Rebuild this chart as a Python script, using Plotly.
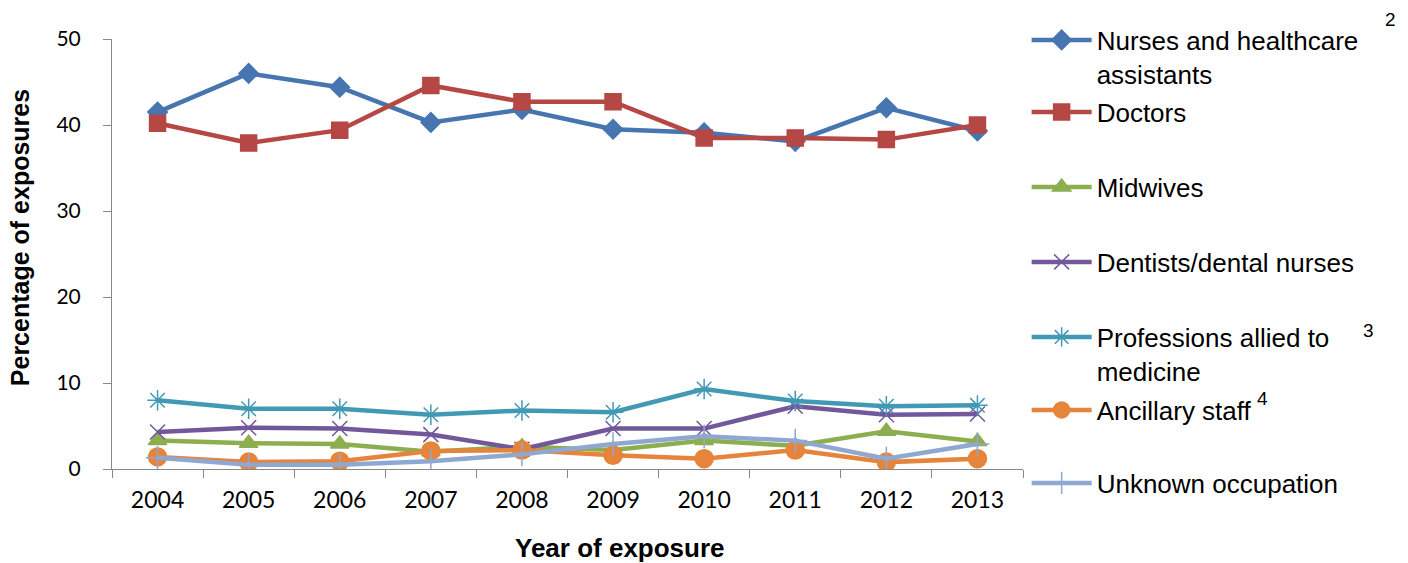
import plotly.graph_objects as go

years = ["2004", "2005", "2006", "2007", "2008", "2009", "2010", "2011", "2012", "2013"]
nurses = [41.5, 46.0, 44.4, 40.3, 41.8, 39.5, 39.1, 38.1, 42.0, 39.3]
doctors = [40.2, 37.9, 39.4, 44.6, 42.7, 42.7, 38.5, 38.5, 38.3, 40.0]
midwives = [3.3, 3.0, 2.9, 2.0, 2.6, 2.2, 3.3, 2.7, 4.4, 3.2]
dentists = [4.3, 4.8, 4.7, 4.0, 2.3, 4.7, 4.7, 7.3, 6.3, 6.4]
allied = [8.0, 7.0, 7.0, 6.3, 6.8, 6.6, 9.3, 7.9, 7.3, 7.4]
ancillary = [1.4, 0.8, 0.9, 2.1, 2.2, 1.6, 1.2, 2.2, 0.8, 1.2]
unknown = [1.3, 0.5, 0.5, 0.9, 1.7, 2.9, 3.8, 3.3, 1.2, 2.9]

names = ["Nurses and healthcare<br>assistants", "Doctors", "Midwives", "Dentists/dental nurses",
         "Professions allied to<br>medicine", "Ancillary staff", "Unknown occupation"]
series = [nurses, doctors, midwives, dentists, allied, ancillary, unknown]
colors = ["#4675B0", "#B54744", "#8DAE4F", "#72579A", "#4199B4", "#E5843A", "#8FA8D2"]
symbols = ["diamond", "square", "triangle-up", "x-thin-open", "asterisk-open", "circle", "cross-thin-open"]
sizes = [15, 16, 16, 15, 17, 18, 17]
# legend entry vertical centres (pixels from top)
legend_y_px = [57, 112, 187, 262, 354, 410, 483]

fig = go.Figure()
legend_ids = ["legend"] + [f"legend{i}" for i in range(2, 8)]
for i, (n, s, c, m, sz) in enumerate(zip(names, series, colors, symbols, sizes)):
    fig.add_trace(go.Scatter(
        x=years, y=s, name=n, mode="lines+markers",
        line=dict(color=c, width=4.5),
        marker=dict(symbol=m, size=sz, color=c, line=dict(color=c, width=1.5)),
        legend=legend_ids[i],
    ))

layout_legends = {}
for lid, py in zip(legend_ids, legend_y_px):
    layout_legends[lid] = dict(
        x=1.004, y=(469 - py) / 430, xanchor="left", yanchor="middle",
        font=dict(size=26, color="black", family="Liberation Sans, Arial, sans-serif"),
        bgcolor="rgba(0,0,0,0)", itemwidth=60, valign="top", borderwidth=0,
    )

fig.update_layout(
    width=1408, height=563,
    margin=dict(l=112, r=385, t=39, b=94),
    paper_bgcolor="white", plot_bgcolor="white",
    font=dict(family="Liberation Sans, Arial, sans-serif", color="black"),
    showlegend=True,
    **layout_legends,
)
fig.update_xaxes(
    type="category", tickson="boundaries", ticks="outside", ticklen=8,
    tickcolor="#888888", showline=True, linecolor="#888888", linewidth=1,
    showgrid=False, tickfont=dict(size=23, family="Lato, sans-serif"), range=[-0.5, 9.5],
    ticklabelstandoff=10,
)
fig.update_yaxes(
    range=[0, 50], tickvals=[0, 10, 20, 30, 40, 50], ticks="outside", ticklen=8,
    tickcolor="#888888", showline=True, linecolor="#888888", linewidth=1,
    showgrid=False, zeroline=False, tickfont=dict(size=21, family="Lato, sans-serif"),
    ticklabelstandoff=18,
)
fig.add_annotation(text="<b>Percentage of exposures</b>", x=-0.1015, xref="paper", y=0.538, yref="paper",
                   showarrow=False, textangle=-90, font=dict(size=25), xanchor="center")
fig.add_annotation(text="<b>Year of exposure</b>", x=0.558, xref="paper", y=-0.183, yref="paper",
                   showarrow=False, font=dict(size=26), yanchor="middle")
for txt, px, py in [("2", 1390, 20), ("3", 1368, 330), ("4", 1262, 398)]:
    fig.add_annotation(text=txt, x=(px - 112) / 911, xref="paper", y=(469 - py) / 430, yref="paper",
                       showarrow=False, font=dict(size=19), xanchor="center", yanchor="middle")

fig.write_html("out.html")
